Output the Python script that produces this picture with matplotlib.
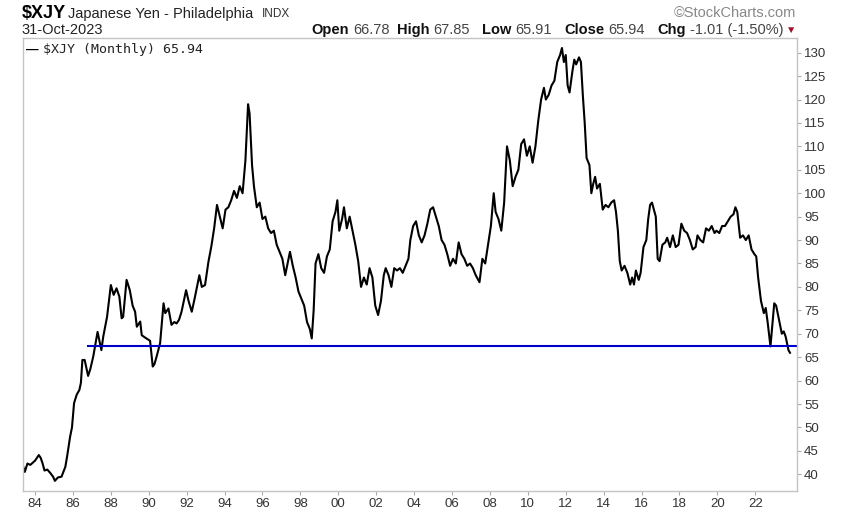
import numpy as np
import matplotlib
matplotlib.use("Agg")
import matplotlib.pyplot as plt

plt.rcParams['font.family'] = ['Liberation Sans', 'DejaVu Sans']

# monthly $XJY (decimal year, close)
years = [1983.38, 1983.46, 1983.6, 1983.75, 1984.0, 1984.2, 1984.3, 1984.4, 1984.5, 1984.65,
         1984.8, 1984.95, 1985.05, 1985.2, 1985.4, 1985.6, 1985.7, 1985.85, 1985.95, 1986.06,
         1986.2, 1986.34, 1986.42, 1986.5, 1986.62, 1986.8, 1986.92, 1987.07, 1987.3, 1987.5,
         1987.6, 1987.8, 1988.0, 1988.15, 1988.3, 1988.45, 1988.57, 1988.65, 1988.83, 1989.0,
         1989.15, 1989.28, 1989.37, 1989.55, 1989.63, 1989.8, 1990.07, 1990.21, 1990.3, 1990.42,
         1990.6, 1990.78, 1990.87, 1991.04, 1991.2, 1991.35, 1991.47, 1991.6, 1991.73, 1991.97,
         1992.1, 1992.27, 1992.44, 1992.67, 1992.8, 1992.97, 1993.15, 1993.3, 1993.45, 1993.6,
         1993.75, 1993.9, 1994.05, 1994.2, 1994.35, 1994.5, 1994.65, 1994.8, 1994.95, 1995.1,
         1995.24, 1995.32, 1995.45, 1995.55, 1995.7, 1995.85, 1996.0, 1996.15, 1996.3, 1996.45,
         1996.6, 1996.75, 1996.9, 1997.05, 1997.2, 1997.35, 1997.45, 1997.6, 1997.75, 1997.9,
         1998.05, 1998.2, 1998.35, 1998.5, 1998.6, 1998.7, 1998.8, 1998.95, 1999.1, 1999.25,
         1999.4, 1999.55, 1999.7, 1999.85, 1999.95, 2000.05, 2000.2, 2000.3, 2000.45, 2000.6,
         2000.75, 2000.9, 2001.05, 2001.2, 2001.35, 2001.5, 2001.65, 2001.8, 2001.95, 2002.1,
         2002.25, 2002.4, 2002.5, 2002.65, 2002.8, 2002.95, 2003.1, 2003.25, 2003.4, 2003.55,
         2003.7, 2003.8, 2003.95, 2004.1, 2004.25, 2004.4, 2004.55, 2004.7, 2004.85, 2005.0,
         2005.15, 2005.3, 2005.45, 2005.6, 2005.75, 2005.9, 2006.05, 2006.2, 2006.35, 2006.5,
         2006.65, 2006.8, 2006.95, 2007.1, 2007.25, 2007.45, 2007.6, 2007.75, 2007.9, 2008.05,
         2008.2, 2008.3, 2008.45, 2008.6, 2008.75, 2008.9, 2009.05, 2009.2, 2009.35, 2009.5,
         2009.65, 2009.8, 2009.95, 2010.1, 2010.25, 2010.4, 2010.55, 2010.7, 2010.85, 2010.95,
         2011.1, 2011.25, 2011.4, 2011.55, 2011.7, 2011.8, 2011.9, 2012.0, 2012.1, 2012.2,
         2012.35, 2012.45, 2012.55, 2012.7, 2012.8, 2012.9, 2013.0, 2013.1, 2013.25, 2013.35,
         2013.45, 2013.55, 2013.65, 2013.8, 2013.95, 2014.1, 2014.25, 2014.4, 2014.55, 2014.65,
         2014.75, 2014.85, 2014.95, 2015.1, 2015.25, 2015.4, 2015.5, 2015.6, 2015.7, 2015.85,
         2015.95, 2016.1, 2016.25, 2016.35, 2016.45, 2016.55, 2016.65, 2016.75, 2016.85, 2016.95,
         2017.1, 2017.25, 2017.35, 2017.5, 2017.65, 2017.8, 2017.95, 2018.1, 2018.25, 2018.4,
         2018.55, 2018.7, 2018.85, 2018.95, 2019.1, 2019.25, 2019.4, 2019.55, 2019.7, 2019.85,
         2019.95, 2020.1, 2020.25, 2020.4, 2020.55, 2020.7, 2020.85, 2020.95, 2021.05, 2021.2,
         2021.35, 2021.5, 2021.65, 2021.8, 2021.95, 2022.05, 2022.15, 2022.3, 2022.45, 2022.55,
         2022.65, 2022.8, 2022.9, 2023.0, 2023.1, 2023.25, 2023.4, 2023.5, 2023.6, 2023.75,
         2023.83]
closes = [41.6, 40.5, 42.3, 42.0, 42.9, 44.1, 43.5, 42.3, 40.8, 41.0,
          40.3, 39.5, 38.6, 39.3, 39.5, 41.6, 44.0, 48.0, 50.0, 55.2,
          57.0, 58.0, 59.5, 64.4, 64.4, 61.0, 62.5, 65.1, 70.4, 66.5,
          69.4, 73.6, 80.4, 78.3, 79.7, 77.9, 73.3, 73.6, 81.5, 79.3,
          76.0, 74.7, 71.5, 72.6, 69.7, 69.2, 68.5, 63.0, 63.5, 65.2,
          68.0, 76.5, 74.4, 75.4, 71.9, 72.5, 72.2, 73.0, 74.7, 79.3,
          77.0, 74.7, 77.9, 82.5, 80.0, 80.4, 85.4, 88.6, 92.5, 97.5,
          95.0, 92.5, 96.5, 97.0, 98.5, 100.5, 99.0, 101.5, 100.0, 107.0,
          119.0, 117.0, 106.0, 101.5, 97.0, 98.0, 94.5, 95.0, 92.5, 91.5,
          92.0, 89.0, 87.5, 86.0, 82.5, 85.5, 87.5, 84.5, 82.0, 79.0,
          77.5, 76.0, 72.5, 71.0, 69.0, 75.0, 85.0, 87.0, 84.0, 83.0,
          86.5, 88.0, 94.0, 96.0, 98.5, 92.0, 94.5, 97.0, 92.5, 95.0,
          92.0, 89.0, 85.5, 80.0, 82.0, 80.5, 84.0, 82.0, 76.0, 74.0,
          77.0, 82.5, 84.0, 82.5, 80.0, 84.0, 83.5, 84.0, 83.0, 84.5,
          86.0, 90.0, 93.0, 94.0, 91.0, 89.5, 91.0, 93.5, 96.5, 97.0,
          95.0, 93.0, 90.0, 89.0, 87.0, 84.5, 86.0, 85.0, 89.5, 87.0,
          86.0, 84.5, 85.0, 84.0, 82.5, 81.0, 86.0, 85.0, 89.0, 93.0,
          100.0, 96.0, 94.5, 92.0, 98.0, 110.0, 107.0, 101.5, 103.5, 105.0,
          110.5, 111.5, 108.0, 110.0, 106.5, 110.0, 115.5, 120.0, 122.5, 120.0,
          121.0, 123.0, 124.0, 128.0, 129.5, 131.0, 128.0, 129.5, 123.0, 121.5,
          126.0, 128.5, 127.5, 129.0, 128.0, 121.0, 115.0, 107.5, 106.0, 100.0,
          102.0, 103.5, 101.0, 102.0, 96.5, 97.5, 97.0, 98.0, 98.5, 96.0,
          92.0, 85.5, 83.5, 84.5, 83.0, 80.5, 82.0, 80.5, 83.5, 81.5,
          83.0, 88.5, 90.0, 94.5, 97.5, 98.0, 96.5, 95.0, 86.0, 85.5,
          89.0, 89.5, 90.5, 88.5, 91.0, 88.5, 89.0, 93.5, 92.0, 91.5,
          90.0, 88.0, 88.5, 91.0, 90.0, 89.5, 92.5, 92.0, 93.0, 91.5,
          92.0, 91.5, 93.0, 93.0, 94.0, 95.0, 95.5, 97.0, 96.0, 90.5,
          91.0, 90.0, 91.0, 88.0, 87.0, 86.5, 82.0, 77.0, 74.4, 75.5,
          72.5, 67.3, 72.0, 76.5, 76.0, 73.0, 70.0, 70.5, 69.4, 66.5,
          65.94]

support_level = 67.45
support_start = 1986.78

tick_years = list(range(1984, 2023, 2))
tick_labels = ['%02d' % (y % 100) for y in tick_years]
y_ticks = list(range(40, 131, 5))

quote_labels = ['Open', 'High', 'Low', 'Close', 'Chg']
quote_values = ['66.78', '67.85', '65.91', '65.94', '-1.01 (-1.50%)']
quote_label_x = [311.5, 396.5, 482, 564, 657]

W, H = 848, 513
fig = plt.figure(figsize=(W / 100, H / 100), dpi=100)
ax = fig.add_axes([22.7 / W, 1 - 491 / H, (797 - 22.7) / W, (491 - 38.3) / H])

ax.plot(years, closes, color='black', lw=1.5, solid_joinstyle='round')
ax.plot([support_start, 2024.25], [support_level, support_level], color='#0000cc', lw=1.5)

ax.set_xlim(1983.35, 2024.2)
ax.set_ylim(36.43, 133.07)

ax.set_xticks(tick_years)
ax.set_xticklabels(tick_labels)
ax.set_yticks(y_ticks)
ax.yaxis.tick_right()
ax.tick_params(axis='both', colors='#aaaaaa', length=3, width=0.8, labelcolor='#333333', labelsize=9.5)
ax.tick_params(axis='y', pad=2)
ax.tick_params(axis='x', pad=2)
for s in ax.spines.values():
    s.set_color('#c4c4c4')
    s.set_linewidth(1)

# header
def px(x, y):
    return x / W, 1 - y / H

fig.text(*px(21.5, 13.5), '$XJY', fontsize=13, fontweight='bold', va='center')
fig.text(*px(68, 14), 'Japanese Yen - Philadelphia', fontsize=10.5, va='center', color='#222222')
fig.text(*px(262, 14), 'INDX', fontsize=8.5, va='center', color='#333333')
fig.text(*px(21.5, 30), '31-Oct-2023', fontsize=10.5, va='center', color='#222222')
fig.text(*px(796, 13), '\u00a9StockCharts.com', fontsize=10.5, va='center', ha='right', color='#888888')

# quote line: bold label, then its value right after it
renderer = fig.canvas.get_renderer()
for lx, lab, val in zip(quote_label_x, quote_labels, quote_values):
    t = fig.text(*px(lx, 30), lab, fontsize=10.5, va='center', fontweight='bold', color='#111111')
    vx = t.get_window_extent(renderer).x1 + 4
    fig.text(*px(vx, 30), val, fontsize=10.5, va='center', color='#444444')
fig.text(*px(791.5, 30), '\u25bc', fontsize=7.5, va='center', ha='center', color='#a0102a')

# legend inside the panel
fig.text(*px(26, 50), '\u2014', fontsize=9, va='center', fontweight='bold', color='black')
fig.text(*px(43, 50), '$XJY (Monthly) 65.94', fontsize=9.5, va='center',
         family=['DejaVu Sans Mono'], color='#222222')

fig.savefig('out.png', dpi=100)
